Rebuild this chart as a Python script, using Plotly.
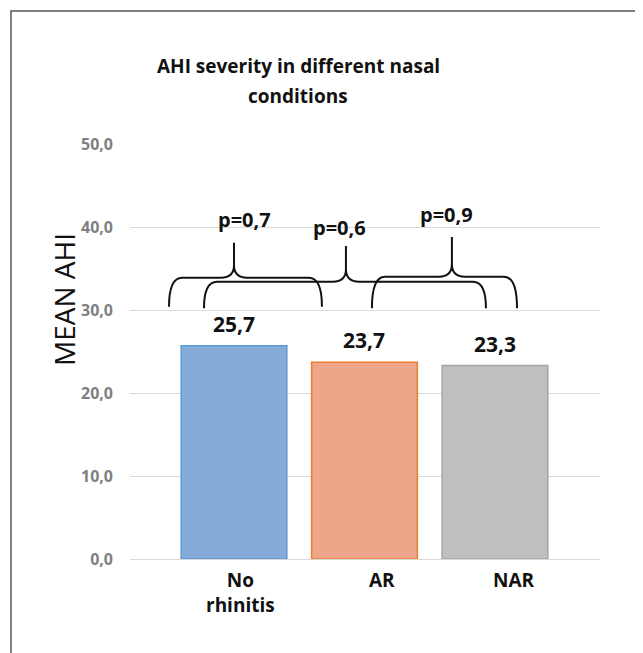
import plotly.graph_objects as go

# ---- data ----
categories = ["No rhinitis", "AR", "NAR"]
category_labels = ["No<br>rhinitis", "AR", "NAR"]
mean_ahi = [25.7, 23.7, 23.3]
value_labels = ["25,7", "23,7", "23,3"]
p_values = ["p=0,7", "p=0,6", "p=0,9"]
y_ticks = [0, 10, 20, 30, 40, 50]
title_lines = ["AHI severity in different nasal", "conditions"]

fill_colors = ["#86abd9", "#eda68a", "#bdbfc0"]
line_colors = ["#5b9bd5", "#ed7d31", "#a5a5a5"]

positions = list(range(len(categories)))

FONT = "Open Sans"

# screenshot-pixel helpers (page has an 8px offset)
PL, PR, PT, PB = 130, 600, 144, 559


def px_x(p):
    return (p - PL) / (PR - PL)


def px_y(p):
    return (PB - p) / (PB - PT)


fig = go.Figure()
fig.add_trace(go.Bar(
    x=positions, y=mean_ahi, width=0.81,
    marker=dict(color=fill_colors, line=dict(color=line_colors, width=1.5)),
    hoverinfo="skip", showlegend=False,
))

# value labels above the bars
for xp, v, lab in zip(positions, mean_ahi, value_labels):
    fig.add_annotation(x=xp, y=v, text=f"<b>{lab}</b>", showarrow=False,
                       yanchor="bottom", yshift=6,
                       font=dict(family=FONT, size=21, color="#111111"))

# category labels under the axis
label_shift = [6, 18, 19]
for xp, lab, sh in zip(positions, category_labels, label_shift):
    fig.add_annotation(x=xp, y=0, text=f"<b>{lab}</b>", showarrow=False,
                       yanchor="top", yshift=-6, xshift=sh,
                       font=dict(family=FONT, size=19, color="#111111"))

# braces (left, right, tip, bottom, horizontal, top) with p-value labels
braces = [
    (-0.498, 0.674, 0.0, 30.4, 33.9, 38.1),
    (-0.230, 1.931, 0.858, 30.2, 33.4, 37.7),
    (1.057, 2.169, 1.670, 30.2, 34.0, 38.8),
]
p_pos = [(0.08, 40.9), (0.81, 39.9), (1.63, 41.5)]


def brace_path(x0, x1, xt, yb, yh, yt, a=0.1, c=1.5):
    return (f"M{x0},{yb} Q{x0},{yh} {x0 + a},{yh} L{xt - a},{yh} "
            f"Q{xt},{yh} {xt},{yh + c} L{xt},{yt} "
            f"M{xt},{yh + c} Q{xt},{yh} {xt + a},{yh} L{x1 - a},{yh} "
            f"Q{x1},{yh} {x1},{yb}")


for b in braces:
    fig.add_shape(type="path", path=brace_path(*b), xref="x", yref="y",
                  line=dict(color="#111111", width=2))

for (px, py), ptxt in zip(p_pos, p_values):
    fig.add_annotation(x=px, y=py, text=f"<b>{ptxt}</b>", showarrow=False,
                       font=dict(family=FONT, size=20, color="#111111"))

# title, two lines
for line, ypix in zip(title_lines, [66, 96]):
    fig.add_annotation(xref="paper", yref="paper", x=px_x(298), y=px_y(ypix),
                       xanchor="center", yanchor="middle",
                       text=f"<b>{line}</b>", showarrow=False,
                       font=dict(family=FONT, size=19, color="#111111"))

# y axis title
fig.add_annotation(xref="paper", yref="paper", x=px_x(64), y=px_y(300),
                   xanchor="center", yanchor="middle",
                   text="MEAN AHI", textangle=-90, showarrow=False,
                   font=dict(family=FONT, size=28, color="#111111"))

# outer frame
fig.add_shape(type="rect", xref="paper", yref="paper",
              x0=px_x(11), x1=px_x(670), y0=px_y(680), y1=px_y(11),
              line=dict(color="#555555", width=1.5), fillcolor="rgba(0,0,0,0)")

OFF = 8
fig.update_layout(
    width=643, height=653,
    margin=dict(l=PL - OFF, r=643 - (PR - OFF), t=PT - OFF, b=653 - (PB - OFF)),
    paper_bgcolor="white", plot_bgcolor="white",
    separators=",.",
    xaxis=dict(range=[-0.797, 2.805], showticklabels=False, showgrid=False,
               zeroline=False, showline=False, fixedrange=True),
    yaxis=dict(range=[0, 50], tickvals=y_ticks, tickformat=".1f",
               showgrid=True, gridcolor="#d9d9d9", gridwidth=1.2,
               zeroline=True, zerolinecolor="#d9d9d9", zerolinewidth=1.2,
               showline=False, ticks="", ticklabelstandoff=16,
               tickfont=dict(family=FONT, size=16, color="#7f7f7f", weight="bold")),
)

fig.write_html("out.html")
